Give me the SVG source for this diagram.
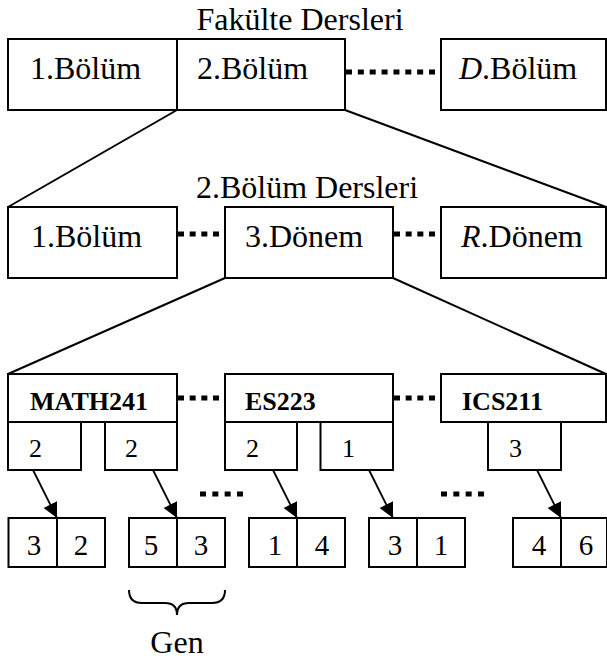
<svg xmlns="http://www.w3.org/2000/svg" width="607" height="662" viewBox="0 0 607 662">
<style>
text{font-family:'Liberation Serif','Times New Roman',Times,serif;fill:#000}
.b{fill:#fff;stroke:#000;stroke-width:2}
.t{font-size:32px}
.h{font-size:26px;font-weight:bold}
.s{font-size:26px}
.d{font-size:29px;text-anchor:middle}
.ln{stroke:#000;stroke-width:2;fill:none}
.dot{stroke:#000;stroke-width:5;fill:none}
.ar{stroke:#000;stroke-width:1.8;fill:none;marker-end:url(#ah)}
</style>
<defs>
<marker id="ah" markerUnits="userSpaceOnUse" viewBox="0 0 14 14" refX="14" refY="7" markerWidth="15" markerHeight="15" orient="auto">
<path d="M0,0 L14,7 L0,14 z" fill="#000"/>
</marker>
</defs>

<g id="connectors">
<line class="ln" x1="177" y1="110" x2="8" y2="207"/>
<line class="ln" x1="345" y1="110" x2="606" y2="207"/>
<line class="ln" x1="225" y1="278" x2="8" y2="374"/>
<line class="ln" x1="393" y1="278" x2="606" y2="374"/>
<line class="dot" x1="346" y1="72" x2="435" y2="72" stroke-dasharray="6 5.86"/>
<line class="dot" x1="178" y1="234" x2="219" y2="234" stroke-dasharray="6 5.67"/>
<line class="dot" x1="394" y1="234" x2="435" y2="234" stroke-dasharray="6 5.67"/>
<line class="dot" x1="178" y1="398" x2="219" y2="398" stroke-dasharray="6 5.67"/>
<line class="dot" x1="394" y1="398" x2="435" y2="398" stroke-dasharray="6 5.67"/>
<line class="dot" x1="200" y1="494" x2="243" y2="494" stroke-dasharray="6 6.33"/>
<line class="dot" x1="441" y1="494" x2="484" y2="494" stroke-dasharray="6 6.33"/>
<line class="ar" x1="33" y1="470" x2="57" y2="518"/>
<line class="ar" x1="153" y1="470" x2="177" y2="518"/>
<line class="ar" x1="273" y1="470" x2="297" y2="518"/>
<line class="ar" x1="369" y1="470" x2="393" y2="518"/>
<line class="ar" x1="537" y1="470" x2="561" y2="518"/>
</g>

<g id="title1"><text class="t" x="300" y="30" text-anchor="middle">Fakülte Dersleri</text></g>
<g id="bolum1"><rect class="b" x="8" y="39" width="169" height="71"/><text class="t" x="30" y="79">1.Bölüm</text></g>
<g id="bolum2"><rect class="b" x="177" y="39" width="168" height="71"/><text class="t" x="197" y="79">2.Bölüm</text></g>
<g id="bolumD"><rect class="b" x="441" y="39" width="165" height="71"/><text class="t" x="459" y="79"><tspan font-style="italic">D</tspan>.Bölüm</text></g>

<g id="title2"><text class="t" x="307" y="198" text-anchor="middle">2.Bölüm Dersleri</text></g>
<g id="r2a"><rect class="b" x="8" y="207" width="169" height="71"/><text class="t" x="31" y="247">1.Bölüm</text></g>
<g id="r2b"><rect class="b" x="225" y="207" width="168" height="71"/><text class="t" x="245" y="247">3.Dönem</text></g>
<g id="r2c"><rect class="b" x="441" y="207" width="165" height="71"/><text class="t" x="461" y="247"><tspan font-style="italic">R</tspan>.Dönem</text></g>

<g id="math241">
<rect class="b" x="8" y="374" width="169" height="48"/><text class="h" x="30" y="410">MATH241</text>
<rect class="b" x="8" y="422" width="73" height="48"/><text class="s" x="29" y="457">2</text>
<rect class="b" x="105" y="422" width="72" height="48"/><text class="s" x="125" y="457">2</text>
</g>
<g id="es223">
<rect class="b" x="225" y="374" width="168" height="48"/><text class="h" x="245" y="410">ES223</text>
<rect class="b" x="225" y="422" width="72" height="48"/><text class="s" x="246" y="457">2</text>
<rect class="b" x="320.5" y="422" width="72.5" height="48"/><text class="s" x="342" y="457">1</text>
</g>
<g id="ics211">
<rect class="b" x="441" y="374" width="165" height="48"/><text class="h" x="462" y="410">ICS211</text>
<rect class="b" x="488" y="422" width="73" height="48"/><text class="s" x="509" y="457">3</text>
</g>

<g id="gen1"><rect class="b" x="8.5" y="518" width="96.5" height="49"/><line class="ln" x1="57" y1="518" x2="57" y2="567"/><text class="d" x="34" y="555">3</text><text class="d" x="81" y="555">2</text></g>
<g id="gen2"><rect class="b" x="129" y="518" width="96" height="49"/><line class="ln" x1="177" y1="518" x2="177" y2="567"/><text class="d" x="151" y="555">5</text><text class="d" x="201" y="555">3</text></g>
<g id="gen3"><rect class="b" x="249" y="518" width="96" height="49"/><line class="ln" x1="297" y1="518" x2="297" y2="567"/><text class="d" x="275" y="555">1</text><text class="d" x="322" y="555">4</text></g>
<g id="gen4"><rect class="b" x="369" y="518" width="96" height="49"/><line class="ln" x1="417" y1="518" x2="417" y2="567"/><text class="d" x="395" y="555">3</text><text class="d" x="441" y="555">1</text></g>
<g id="gen5"><rect class="b" x="513" y="518" width="94" height="49"/><line class="ln" x1="561" y1="518" x2="561" y2="567"/><text class="d" x="539" y="555">4</text><text class="d" x="586" y="555">6</text></g>

<g id="brace">
<path class="ln" stroke-width="1.5" d="M129,590 Q129,603 142,603 L165,603 Q177,603 177,615 Q177,603 189,603 L212,603 Q225,603 225,590"/>
<text class="t" x="177" y="653" text-anchor="middle" font-size="30">Gen</text>
</g>
</svg>
